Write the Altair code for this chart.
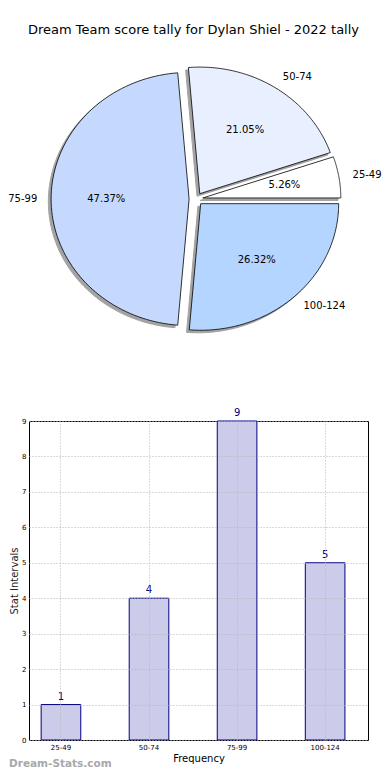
import altair as alt
import pandas as pd

# ---- data ----
categories = ["25-49", "50-74", "75-99", "100-124"]
counts = [1, 4, 9, 5]
pie_colors = ["#ffffff", "#e8f0ff", "#c5d9ff", "#b3d5ff"]
title_text = "Dream Team score tally for Dylan Shiel - 2022 tally"
watermark = "Dream-Stats.com"
y_ticks = list(range(10))

# ---- layout constants (page pixels) ----
EXPLODE = 0.05
N = 90
L = 31            # left edge of plot areas on the page (after the y axis)
PIE_TOP = 48      # top of pie panel on page
PIE_H = 352
PIE_W = 370 - L
CX, CY = 198, 198
RX, RY = 138, 126.6

cxl, cyl = CX - L, CY - PIE_TOP
xdom = [-cxl / RX, (PIE_W - cxl) / RX]
ydom = [(cyl - PIE_H) / RY, cyl / RY]

df = pd.DataFrame({"cat": categories, "value": counts, "order": list(range(len(categories)))})

FONT = "DejaVu Sans"

base = (
    alt.Chart(df)
    .transform_joinaggregate(total="sum(value)")
    .transform_window(cum="sum(value)", sort=[alt.SortField("order")], frame=[None, 0])
    .transform_calculate(
        a0="2*PI*(datum.cum - datum.value)/datum.total",
        a1="2*PI*datum.cum/datum.total",
    )
    .transform_calculate(
        m="(datum.a0 + datum.a1)/2",
    )
    .transform_calculate(
        ox=f"{EXPLODE}*cos(datum.m)",
        oy=f"{EXPLODE}*sin(datum.m)",
        pct="format(100*datum.value/datum.total, '.2f') + '%'",
    )
)

xs = alt.Scale(domain=xdom, nice=False, zero=False)
ys = alt.Scale(domain=ydom, nice=False, zero=False)

poly = (
    base.transform_calculate(steps=f"sequence(0, {N + 2})")
    .transform_flatten(["steps"])
    .transform_calculate(t=f"datum.a0 + (datum.a1 - datum.a0)*(datum.steps - 1)/{N}")
    .transform_calculate(
        px="datum.ox + (datum.steps == 0 ? 0 : cos(datum.t))",
        py="datum.oy + (datum.steps == 0 ? 0 : sin(datum.t))",
    )
    .transform_calculate(sx="datum.px - 0.02", sy="datum.py - 0.02")
)

shadow = poly.mark_line(interpolate="linear-closed", fill="#9a9a9a", stroke="#9a9a9a",
                        strokeWidth=1, opacity=0.9).encode(
    x=alt.X("sx:Q", scale=xs, axis=None),
    y=alt.Y("sy:Q", scale=ys, axis=None),
    detail="cat:N",
    order=alt.Order("steps:Q"),
)

slices = poly.mark_line(interpolate="linear-closed", stroke="#000000", strokeWidth=0.8).encode(
    x=alt.X("px:Q", scale=xs, axis=None),
    y=alt.Y("py:Q", scale=ys, axis=None),
    fill=alt.Fill("cat:N", scale=alt.Scale(domain=categories, range=pie_colors), legend=None),
    detail="cat:N",
    order=alt.Order("steps:Q"),
)

lab = base.transform_calculate(
    lx="datum.ox + 1.1*cos(datum.m)",
    ly="datum.oy + 1.1*sin(datum.m)",
    qx="datum.ox + 0.6*cos(datum.m)",
    qy="datum.oy + 0.6*sin(datum.m)",
)

lab_right = lab.transform_filter("cos(datum.m) > 0").mark_text(
    align="left", baseline="middle", font=FONT, fontSize=10, color="black"
).encode(x=alt.X("lx:Q", scale=xs, axis=None), y=alt.Y("ly:Q", scale=ys, axis=None), text="cat:N")

lab_left = lab.transform_filter("cos(datum.m) <= 0").mark_text(
    align="right", baseline="middle", font=FONT, fontSize=10, color="black"
).encode(x=alt.X("lx:Q", scale=xs, axis=None), y=alt.Y("ly:Q", scale=ys, axis=None), text="cat:N")

pct = lab.mark_text(align="center", baseline="middle", font=FONT, fontSize=10, color="black").encode(
    x=alt.X("qx:Q", scale=xs, axis=None), y=alt.Y("qy:Q", scale=ys, axis=None), text="pct:N"
)

pie = alt.layer(shadow, slices, lab_right, lab_left, pct).properties(
    width=PIE_W,
    height=PIE_H,
    view=alt.ViewBackground(stroke=None),
    title=alt.TitleParams(title_text, font=FONT, fontSize=13, fontWeight="normal",
                          color="black", anchor="middle", offset=12, dx=-5),
)

# ---- bar chart ----
BAR_W = 370 - L
BAR_H = 319

bar_base = alt.Chart(df).encode(
    x=alt.X(
        "cat:N", sort=categories,
        scale=alt.Scale(paddingInner=0.55, paddingOuter=0.2, align=0.345),
        axis=alt.Axis(title="Frequency", labelAngle=0, labelFontSize=7, labelFont=FONT,
                      labelColor="black", titleFont=FONT, titleFontSize=10,
                      titleFontWeight="normal", titleColor="black", titlePadding=3,
                      grid=True, gridDash=[1, 2], gridColor="#b4b4b4", gridWidth=1,
                      bandPosition=0.5, ticks=False, domain=False, labelPadding=3, zindex=1),
    ),
    y=alt.Y(
        "value:Q",
        scale=alt.Scale(domain=[0, 9], nice=False),
        axis=alt.Axis(title="Stat Intervals", values=y_ticks, labelFontSize=7, labelFont=FONT,
                      labelColor="black", titleFont=FONT, titleFontSize=10,
                      titleFontWeight="normal", titleColor="#222222", titlePadding=2,
                      minExtent=8, maxExtent=8,
                      grid=True, gridDash=[1, 2], gridColor="#b4b4b4", gridWidth=1,
                      ticks=False, domain=False, labelPadding=3, zindex=1),
    ),
)

bars = bar_base.mark_bar(fill="#ccccea", stroke="#000080", strokeWidth=1)
vals = bar_base.mark_text(baseline="bottom", dy=-3, font=FONT, fontSize=10, color="#000080").encode(
    text="value:Q"
)

bar_chart = alt.layer(bars, vals).properties(
    width=BAR_W,
    height=BAR_H,
    view=alt.ViewBackground(stroke="black", strokeWidth=1),
    title=alt.TitleParams(watermark, orient="bottom", anchor="start", font="DejaVu Sans",
                          fontSize=10.5, fontWeight="bold", color="#a8a8a8", offset=-4),
)

chart = alt.vconcat(pie, bar_chart, spacing=420 - (PIE_TOP + PIE_H), bounds="flush").properties(
    padding={"left": 0, "top": 16, "right": 0, "bottom": 0}
)

chart.save("out.html", embed_options={"renderer": "svg", "actions": False})
